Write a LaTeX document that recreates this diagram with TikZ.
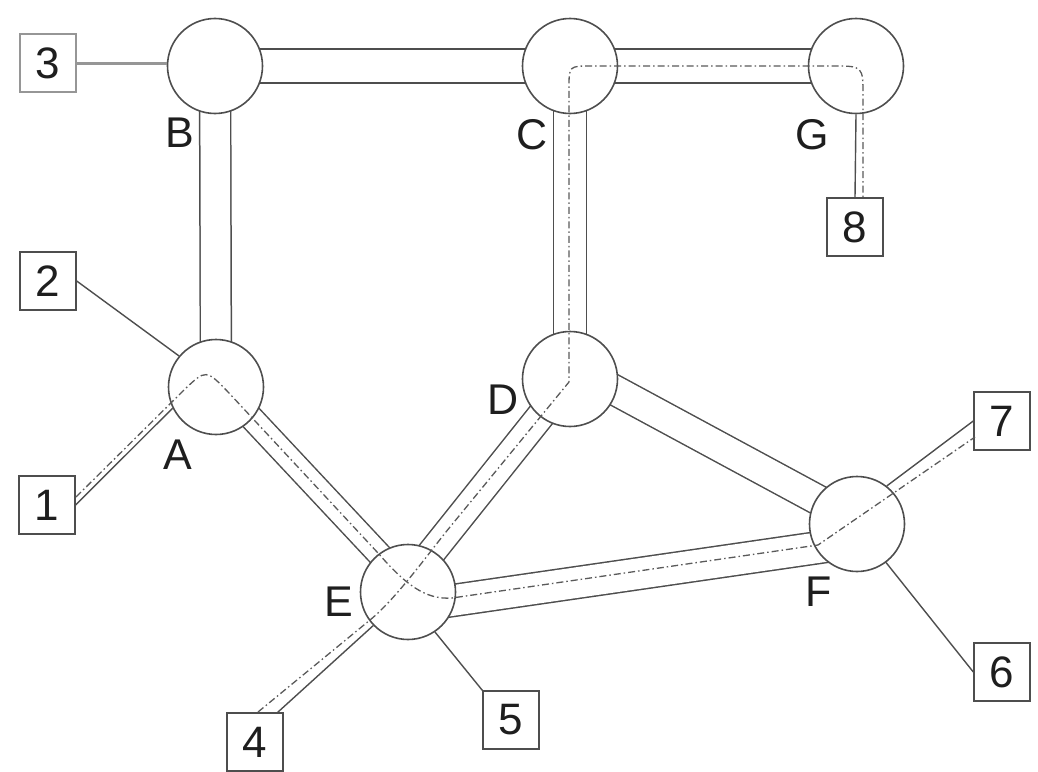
\documentclass[tikz,border=0pt]{standalone}
\usepackage{fontspec}
\setmainfont{Liberation Sans}
\definecolor{linegray}{RGB}{78,78,78}
\definecolor{lightline}{RGB}{150,150,150}
\definecolor{routegray}{RGB}{90,90,90}
\definecolor{ink}{RGB}{30,30,30}
\pgfdeclarelayer{pipes}
\pgfsetlayers{pipes,main}
\begin{document}
\begin{tikzpicture}[x=1pt,y=-1pt,
  junction/.style={circle, draw=linegray, line width=1.6pt, fill=white,
    minimum size=95pt, inner sep=0pt},
  port/.style={rectangle, draw=linegray, line width=1.4pt, fill=white,
    minimum width=56pt, minimum height=58pt, inner sep=0pt,
    font=\fontsize{44}{44}\selectfont, text=ink},
  tag/.style={font=\fontsize{43}{43}\selectfont, text=ink, inner sep=0pt},
  pipe/.style={draw=linegray, line width=1.5pt, double=white, double distance=#1},
  lead/.style={draw=linegray, line width=1.4pt},
  route/.style={draw=routegray, line width=1.3pt,
    dash pattern=on 7pt off 3pt on 1.5pt off 3pt},
]
\useasboundingbox (0,0) rectangle (1038,771);

% junctions
\node[junction] (B) at (215,66) {};
\node[junction] (C) at (570,66) {};
\node[junction] (G) at (856,66) {};
\node[junction] (A) at (216,387) {};
\node[junction] (D) at (570,379) {};
\node[junction] (E) at (408,592) {};
\node[junction] (F) at (857,524) {};

% junction letters
\node[tag] (lB) at (180,133) {B};
\node[tag] (lC) at (532,135) {C};
\node[tag] (lG) at (812,135) {G};
\node[tag] (lA) at (178,455) {A};
\node[tag] (lD) at (503,400) {D};
\node[tag] (lE) at (339,602) {E};
\node[tag] (lF) at (819,592) {F};

% numbered ports
\node[port, draw=lightline] (p3) at (48,63) {3};
\node[port] (p2) at (48,281) {2};
\node[port] (p1) at (47,505) {1};
\node[port] (p4) at (255,742) {4};
\node[port] (p5) at (511,720) {5};
\node[port] (p6) at (1002,672) {6};
\node[port] (p7) at (1002,421) {7};
\node[port] (p8) at (855,227) {8};

% double-walled pipes between junctions, behind the junctions
\begin{pgfonlayer}{pipes}
  \fill[white] (0,0) rectangle (1038,771);
  \path[pipe=32.5pt] (B.center) -- (C.center);
  \path[pipe=32.5pt] (C.center) -- (G.center);
  \path[pipe=29.5pt] (B.center) -- (A.center);
  \path[pipe=31.5pt] (C.center) -- (D.center);
  \path[pipe=22.5pt] ([yshift=7pt]A.center) -- ([yshift=7pt]E.center);
  \path[pipe=26.5pt] (D.center) -- ([yshift=10pt]E.center);
  \path[pipe=28.5pt] ([yshift=13pt]D.center) -- ([yshift=3pt]F.center);
  \path[pipe=30.5pt] ([yshift=-15pt]E.center) -- ([yshift=-18pt]F.center);
\end{pgfonlayer}

% single leads to the ports
\draw[draw=lightline, line width=3pt] (p3.east) -- (p3.east -| B.west);
\draw[lead] (p2.east) -- (A.140);
\draw[lead] (p1.east) -- (A.206);
\draw[lead] ([xshift=-6pt]p4.north east) -- (E.224);
\draw[lead] (p5.north west) -- (E.-56);
\draw[lead] (p6.west) -- (F.-53);
\draw[lead] (p7.west) -- (F.52);
\draw[lead] (G.south) -- (p8.north);

% traced routes
\coordinate (r1s) at (76,497);
\coordinate (r1e) at (975,437);
\draw[route] (r1s) -- (184,390) .. controls (206,369) .. (229,393)
  -- (378,553) .. controls (405,584) and (425,600) .. (452,598)
  -- (818,545) -- (r1e);

\coordinate (r2s) at (258,712);
\coordinate (r2e) at (863,198);
\draw[route] (r2s) -- (370,620) .. controls (397,598) and (431,550) .. (450,527)
  -- (569,382) -- (569,88) .. controls (569,66) .. (591,66)
  -- (833,66) .. controls (863,66) .. (863,96) -- (r2e);
\end{tikzpicture}
\end{document}
